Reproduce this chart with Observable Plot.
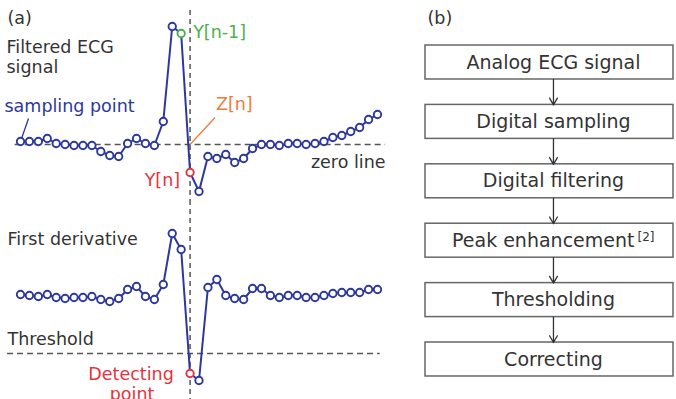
<!DOCTYPE html>
<html><head><meta charset="utf-8">
<script src="https://cdn.jsdelivr.net/npm/d3@7"></script>
<script src="https://cdn.jsdelivr.net/npm/@observablehq/plot@0.6"></script>
<style>
body{margin:0;background:#fff;}
#wrap{position:relative;width:676px;height:399px;overflow:hidden;background:#fff;}
#wrap > svg{position:absolute;}
</style></head><body><div id="wrap"></div>
<script>
// ---- data ----
const ecgSignal = [3,3,3,6,1,0,-1,-1,-1,-7,-11,-12,1,6,1,-1,23,118,111,-28,-47,-12,-14,-10,-18,-14,-4,0,0,-1,1,1,0,1,3,7,9,13,17,25,30];
const firstDerivative = [2,1,0,2,-1,-2,-1,-1,0,-3,-5,-2,7,10,0,-3,12,63,47,-77,-84,9,17,1,-2,-3,8,8,1,-1,1,1,-1,-1,1,3,4,4,4,7,7];
const zeroLevel = 0;
const thresholdLevel = -57;
const prevIndex = 18;   // Y[n-1]
const detIndex = 19;    // Y[n] / detecting point
const steps = ["Analog ECG signal","Digital sampling","Digital filtering","Peak enhancement","Thresholding","Correcting"];
const stepNotes = ["","","","[2]","",""];

// ---- styles ----
const FONT = '"DejaVu Sans",sans-serif';
const BLUE = "#2c389c", GREEN = "#4cb04f", RED = "#e8313c", ORANGE = "#ef7b3b", INK = "#333", DASH = "#555";
const FS = 17.5;
const sig = ecgSignal.map((v, i) => ({i, v}));
const der = firstDerivative.map((v, i) => ({i, v}));
const isPlain = d => d.i !== prevIndex && d.i !== detIndex;
const style = {fontFamily: FONT, background: "transparent", overflow: "visible"};
const xScale = {domain: [0, 40], range: [20, 377], axis: null};

const wrap = document.getElementById("wrap");

// top panel: filtered ECG
const topPlot = Plot.plot({
  width: 400, height: 200, marginTop: 10, marginBottom: 0, marginLeft: 0, marginRight: 0,
  x: xScale, y: {domain: [0, 118], range: [144, 26], axis: null}, style,
  marks: [
    Plot.ruleY([zeroLevel], {x1: -0.6, x2: 40.9, stroke: DASH, strokeWidth: 1.5, strokeDasharray: "6,4"}),
    Plot.ruleX([detIndex], {stroke: DASH, strokeWidth: 1.5, strokeDasharray: "5,4"}),
    Plot.link([sig[detIndex]], {x1: "i", y1: zeroLevel, x2: d => d.i + 2.8, y2: 27, stroke: ORANGE, strokeWidth: 1.3}),
    Plot.link([sig[0]], {x1: "i", y1: "v", x2: d => d.i + 0.9, y2: d => d.v + 23, stroke: BLUE, strokeWidth: 1.3, insetStart: 3}),
    Plot.line(sig, {x: "i", y: "v", stroke: BLUE, strokeWidth: 2}),
    Plot.dot(sig, {filter: isPlain, x: "i", y: "v", r: 3.7, fill: "white", stroke: BLUE, strokeWidth: 1.9}),
    Plot.dot(sig, {filter: d => d.i === prevIndex, x: "i", y: "v", r: 3.7, fill: "white", stroke: GREEN, strokeWidth: 1.9}),
    Plot.dot(sig, {filter: d => d.i === detIndex, x: "i", y: "v", r: 3.7, fill: "white", stroke: RED, strokeWidth: 1.9}),
    Plot.text(["(a)"], {frameAnchor: "top-left", dx: 7, dy: 1, fontSize: 17.5, fill: INK}),
    Plot.text(["Filtered ECG"], {frameAnchor: "left", y: 97, dx: 6, textAnchor: "start", fontSize: FS, fill: INK}),
    Plot.text(["signal"], {frameAnchor: "left", y: 77, dx: 6, textAnchor: "start", fontSize: FS, fill: INK}),
    Plot.text(["sampling point"], {frameAnchor: "left", y: 38, dx: 4, textAnchor: "start", fontSize: FS, fill: BLUE}),
    Plot.text([sig[prevIndex]], {x: "i", y: "v", text: () => "Y[n-1]", dx: 12, dy: -1, textAnchor: "start", fontSize: FS, fill: GREEN}),
    Plot.text([sig[detIndex]], {x: "i", y: "v", text: () => "Y[n]", dx: -10, dy: 8, textAnchor: "end", fontSize: FS, fill: RED}),
    Plot.text([sig[detIndex]], {x: d => d.i + 2.9, y: 40, text: () => "Z[n]", textAnchor: "start", fontSize: FS, fill: ORANGE}),
    Plot.text(["zero line"], {x: 40.9, y: -18, textAnchor: "end", fontSize: FS, fill: INK})
  ]
});
topPlot.style.left = "0px"; topPlot.style.top = "0px";
wrap.appendChild(topPlot);

// bottom panel: first derivative
const botPlot = Plot.plot({
  width: 400, height: 199, marginTop: 0, marginBottom: 0, marginLeft: 0, marginRight: 0,
  x: xScale, y: {domain: [0, 63], range: [96, 33], axis: null}, style,
  marks: [
    Plot.ruleY([thresholdLevel], {x1: -1.45, x2: 40.3, stroke: DASH, strokeWidth: 1.5, strokeDasharray: "6,4"}),
    Plot.ruleX([detIndex], {stroke: DASH, strokeWidth: 1.5, strokeDasharray: "5,4"}),
    Plot.line(der, {x: "i", y: "v", stroke: BLUE, strokeWidth: 2}),
    Plot.dot(der, {filter: d => d.i !== detIndex, x: "i", y: "v", r: 3.7, fill: "white", stroke: BLUE, strokeWidth: 1.9}),
    Plot.dot(der, {filter: d => d.i === detIndex, x: "i", y: "v", r: 3.7, fill: "white", stroke: RED, strokeWidth: 1.9}),
    Plot.text(["First derivative"], {frameAnchor: "left", y: 57, dx: 7, textAnchor: "start", fontSize: FS, fill: INK}),
    Plot.text(["Threshold"], {frameAnchor: "left", y: -43, dx: 7, textAnchor: "start", fontSize: FS, fill: INK}),
    Plot.text([der[detIndex]], {x: "i", y: "v", text: () => "Detecting", dx: -59, dy: 1, textAnchor: "middle", fontSize: FS, fill: RED}),
    Plot.text([der[detIndex]], {x: "i", y: "v", text: () => "point", dx: -58, dy: 21, textAnchor: "middle", fontSize: FS, fill: RED})
  ]
});
botPlot.style.left = "0px"; botPlot.style.top = "200px";
wrap.appendChild(botPlot);

// flowchart panel
const H = 0.286, XC = 0.516;
const stepData = steps.map((s, i) => ({i, s, note: stepNotes[i]}));
const flow = Plot.plot({
  width: 266, height: 399, margin: 0,
  x: {domain: [0, 1], range: [15, 263], axis: null},
  y: {domain: [0, 5], range: [62, 359], axis: null}, style,
  marks: [
    Plot.rect(stepData, {x1: 0, x2: 1, y1: d => d.i - H, y2: d => d.i + H, fill: "white", stroke: "#666", strokeWidth: 1.5}),
    Plot.arrow(stepData.slice(0, -1), {x1: XC, x2: XC, y1: d => d.i + H, y2: d => d.i + 1 - H, stroke: "#333", strokeWidth: 1.3, headLength: 9}),
    Plot.text(stepData.filter(d => !d.note), {x: XC, y: "i", text: "s", fontSize: 19, fill: INK}),
    Plot.text(stepData.filter(d => d.note), {x: XC, y: "i", text: "s", textAnchor: "end", dx: 81, fontSize: 19, fill: INK}),
    Plot.text(stepData.filter(d => d.note), {x: XC, y: "i", text: "note", textAnchor: "start", dx: 84, dy: -4, fontSize: 12, fill: INK}),
    Plot.text(["(b)"], {frameAnchor: "top-left", dx: 17, dy: 11, fontSize: 17.5, fill: INK})
  ]
});
flow.style.left = "410px"; flow.style.top = "0px";
wrap.appendChild(flow);
</script></body></html>
